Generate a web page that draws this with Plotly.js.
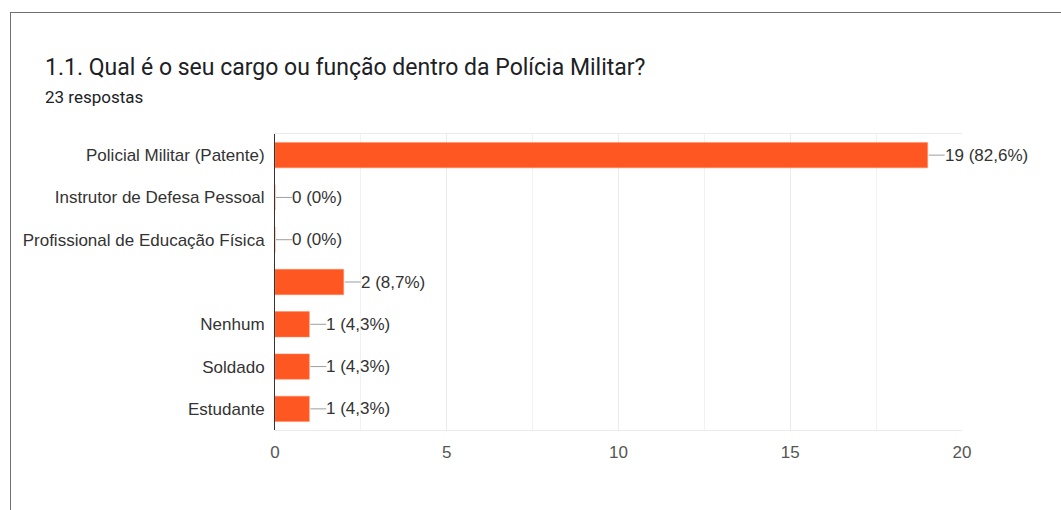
<!DOCTYPE html>
<html>
<head>
<meta charset="utf-8">
<script src="https://cdn.plot.ly/plotly-3.0.1.min.js"></script>
<style>
  html, body { margin: 0; padding: 0; background: #fff; }
  #wrap { position: relative; width: 1061px; height: 510px; overflow: hidden; }
  #chart { position: absolute; left: 0; top: 0; width: 1061px; height: 510px; }
  #frame { position: absolute; left: 10px; top: 12px; width: 1100px; height: 600px;
           border-left: 1px solid #6f6f6f; border-top: 1px solid #6f6f6f; pointer-events: none; }
</style>
</head>
<body>
<div id="wrap">
  <div id="chart"></div>
  <div id="frame"></div>
</div>
<script>
const categories = [
  "Policial Militar (Patente)",
  "Instrutor de Defesa Pessoal",
  "Profissional de Educação Física",
  " ",
  "Nenhum",
  "Soldado",
  "Estudante"
];
const counts = [19, 0, 0, 2, 1, 1, 1];
const valueLabels = ["19 (82,6%)", "0 (0%)", "0 (0%)", "2 (8,7%)", "1 (4,3%)", "1 (4,3%)", "1 (4,3%)"];
const xTicks = [0, 5, 10, 15, 20];
const titleText = "1.1. Qual é o seu cargo ou função dentro da Polícia Militar?";
const subtitleText = "23 respostas";

const TFONT = "Roboto, Arial, sans-serif";
const CFONT = "'Liberation Sans', Arial, sans-serif";

// plot area in pixels (for placing the subtitle in paper coordinates)
const M = { l: 275, r: 99, t: 134, b: 80 };
const PW = 1061 - M.l - M.r, PH = 510 - M.t - M.b;

const trace = {
  type: "bar",
  orientation: "h",
  y: categories,
  x: counts,
  marker: { color: "#ff5722", line: { color: "#ff8a65", width: 0.5 } },
  hoverinfo: "none"
};

const shapes = counts.map((v, i) => ({
  type: "line",
  xref: "x", yref: "y",
  xsizemode: "pixel",
  xanchor: v,
  x0: 1, x1: 17,
  y0: categories[i], y1: categories[i],
  line: { color: "#9e9e9e", width: 1 }
}));

const annotations = counts.map((v, i) => ({
  xref: "x", yref: "y",
  x: v, y: categories[i],
  text: valueLabels[i],
  showarrow: false,
  xanchor: "left",
  yanchor: "middle",
  xshift: 15,
  font: { family: CFONT, size: 17, color: "#333333" }
}));

annotations.push({
  xref: "paper", yref: "paper",
  x: (45 - M.l) / PW, y: (510 - M.b - 97) / PH,
  xanchor: "left", yanchor: "middle",
  xshift: -2,
  text: subtitleText,
  showarrow: false,
  font: { family: TFONT, size: 17, color: "#202124" }
});

const layout = {
  width: 1061,
  height: 510,
  margin: { l: M.l, r: M.r, t: M.t, b: M.b, pad: 0 },
  paper_bgcolor: "#ffffff",
  plot_bgcolor: "#ffffff",
  showlegend: false,
  bargap: 0.4,
  title: {
    text: titleText,
    xref: "container", yref: "container",
    x: 45 / 1061, y: 1 - 67 / 510,
    xanchor: "left", yanchor: "middle",
    font: { family: TFONT, size: 23, color: "#202124" }
  },
  xaxis: {
    range: [0, 20],
    tickvals: xTicks,
    ticktext: xTicks.map(String),
    showgrid: true,
    gridcolor: "#ebebeb",
    minor: { dtick: 2.5, tick0: 0, showgrid: true, gridcolor: "#f1f1f1" },
    zeroline: false,
    showline: true,
    mirror: true,
    linecolor: "#ebebeb",
    ticks: "",
    ticklabelstandoff: 7,
    tickfont: { family: CFONT, size: 17, color: "#555555" },
    fixedrange: true
  },
  yaxis: {
    type: "category",
    autorange: "reversed",
    showgrid: false,
    zeroline: false,
    showline: true,
    linecolor: "#333333",
    linewidth: 1,
    ticks: "",
    ticklabelstandoff: 6,
    tickfont: { family: CFONT, size: 17, color: "#333333" },
    fixedrange: true
  },
  shapes: shapes,
  annotations: annotations,
  font: { family: CFONT }
};

Plotly.newPlot("chart", [trace], layout, { staticPlot: true, displayModeBar: false });
</script>
</body>
</html>
